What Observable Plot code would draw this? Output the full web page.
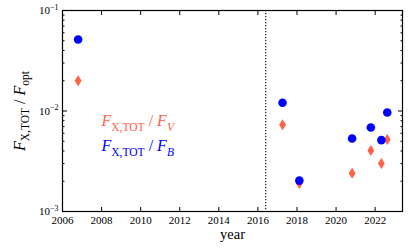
<!DOCTYPE html>
<html><head><meta charset="utf-8">
<script src="https://cdn.jsdelivr.net/npm/d3@7"></script>
<script src="https://cdn.jsdelivr.net/npm/@observablehq/plot@0.6"></script>
<style>body{margin:0;background:#fff}</style>
</head><body><div id="chart"></div>
<script>
const years  = [2006.8, 2017.26, 2018.12, 2020.82, 2021.78, 2022.32, 2022.62];
const ratioB = [0.0514, 0.0121, 0.00203, 0.00532, 0.00685, 0.00513, 0.00966];
const ratioV = [0.0200, 0.0073, 0.0019, 0.0024, 0.00405, 0.0030, 0.0052];
const xTicks = [2006, 2008, 2010, 2012, 2014, 2016, 2018, 2020, 2022];
const yMajor = [1e-3, 1e-2, 1e-1];
const yTickLabels = ["10⁻³", "10⁻²", "10⁻¹"];
const yMinor = [2e-3,3e-3,4e-3,5e-3,6e-3,7e-3,8e-3,9e-3,2e-2,3e-2,4e-2,5e-2,6e-2,7e-2,8e-2,9e-2];
const vlineYear = [2016.4];
const seriesNames = ["FX,TOT/FV", "FX,TOT/FB"];
const yLabelText = "FX,TOT/Fopt";
const xLabelText = "year";

const colV = "#ff6347", colB = "#0000ff";
const FONT = "'Liberation Serif', 'DejaVu Serif', serif";

const dataV = years.map((y, i) => ({year: y, ratio: ratioV[i]}));
const dataB = years.map((y, i) => ({year: y, ratio: ratioB[i]}));

const thinDiamond = {
  draw(ctx, size) {
    const r = Math.sqrt(size / Math.PI);
    const h = r * 1.2, w = r * 0.75;
    ctx.moveTo(0, -h); ctx.lineTo(w, 0); ctx.lineTo(0, h); ctx.lineTo(-w, 0); ctx.closePath();
  }
};

const fmtY = d => yTickLabels[yMajor.indexOf(d)];

const chart = Plot.plot({
  width: 415, height: 249,
  marginLeft: 62, marginRight: 13, marginTop: 10, marginBottom: 38,
  style: {fontFamily: FONT, fontSize: "11px", color: "black", background: "white"},
  x: {domain: [2006, 2023.4]},
  y: {type: "log", domain: [1e-3, 1e-1]},
  marks: [
    Plot.ruleX(vlineYear, {stroke: "black", strokeDasharray: "1.2,1.8", strokeWidth: 1.1}),
    Plot.dot(dataV, {x: "year", y: "ratio", symbol: thinDiamond, r: 4.6, fill: colV, stroke: "none"}),
    Plot.dot(dataB, {x: "year", y: "ratio", r: 4.3, fill: colB, stroke: "none"}),
    // ticks inward on all sides
    Plot.axisX({anchor: "bottom", ticks: xTicks, tickSize: -4, tickFormat: () => "", label: null}),
    Plot.axisX({anchor: "top", ticks: xTicks, tickSize: -4, tickFormat: () => "", label: null}),
    Plot.axisX({anchor: "bottom", ticks: xTicks, tickSize: 0, tickPadding: 5, tickFormat: d => String(d), label: null, fontSize: 11}),
    Plot.axisY({anchor: "left", ticks: yMajor, tickSize: -5, tickFormat: () => "", label: null}),
    Plot.axisY({anchor: "right", ticks: yMajor, tickSize: -5, tickFormat: () => "", label: null}),
    Plot.axisY({anchor: "left", ticks: yMinor, tickSize: -2.5, tickFormat: () => "", label: null}),
    Plot.axisY({anchor: "right", ticks: yMinor, tickSize: -2.5, tickFormat: () => "", label: null}),
    Plot.axisY({anchor: "left", ticks: yMajor, tickSize: 0, tickPadding: 4, tickFormat: fmtY, label: null, fontSize: 11}),
    Plot.frame({stroke: "black", strokeWidth: 1.2}),
    Plot.text([seriesNames[0]], {text: d => d, frameAnchor: "left", textAnchor: "start", dx: 39, dy: 10, fill: colV, fontSize: 16}),
    Plot.text([seriesNames[1]], {text: d => d, frameAnchor: "left", textAnchor: "start", dx: 39, dy: 35, fill: colB, fontSize: 16}),
    Plot.text([yLabelText], {text: d => d, frameAnchor: "left", textAnchor: "middle", rotate: -90, dx: -43, dy: 0, fontSize: 16, fill: "black"}),
    Plot.text([xLabelText], {text: d => d, frameAnchor: "bottom", textAnchor: "middle", dy: 27, fontSize: 14.5, fill: "black"})
  ]
});
document.getElementById("chart").appendChild(chart);

// rich text (italic variables, subscripts, superscripts)
function rich(el, segs, fs) {
  const t = d3.select(el); t.text("");
  let shift = 0;
  segs.forEach(([s, it, pos]) => {
    const target = pos === "sub" ? 0.28 * fs : pos === "sup" ? -0.4 * fs : 0;
    const ts = t.append("tspan").text(s).attr("font-style", it ? "italic" : "normal");
    if (pos) ts.attr("font-size", (0.72 * fs) + "px");
    if (target !== shift) { ts.attr("dy", target - shift); shift = target; }
  });
}
const svg = d3.select(chart.tagName === "svg" ? chart : chart.querySelector("svg"));
svg.selectAll("text").each(function() {
  const s = this.textContent;
  if (s === seriesNames[0]) rich(this, [["F", true], ["X,TOT", false, "sub"], [" / ", false], ["F", true], ["V", true, "sub"]], 16);
  else if (s === seriesNames[1]) rich(this, [["F", true], ["X,TOT", false, "sub"], [" / ", false], ["F", true], ["B", true, "sub"]], 16);
  else if (s === yLabelText) rich(this, [["F", true], ["X,TOT", false, "sub"], [" / ", false], ["F", true], ["opt", false, "sub"]], 16);
  else if (yTickLabels.includes(s)) {
    const exp = ["−3", "−2", "−1"][yTickLabels.indexOf(s)];
    rich(this, [["10", false], [exp, false, "sup"]], 11);
  }
});
</script>
</body></html>
